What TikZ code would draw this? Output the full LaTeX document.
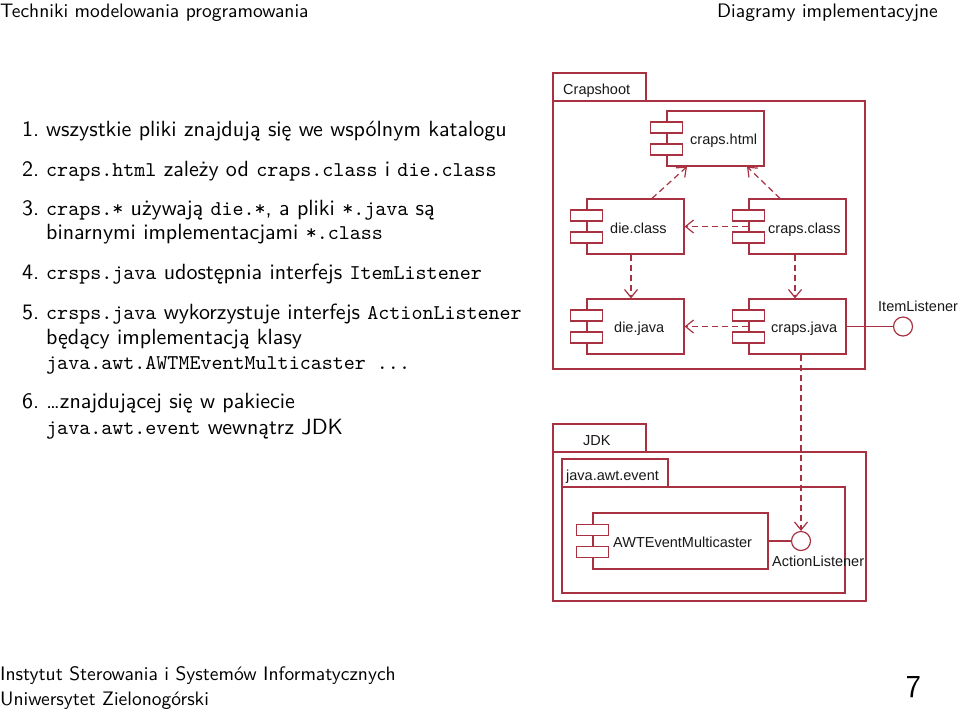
\documentclass[tikz,border=0pt]{standalone}
\usepackage{fontspec}
\newfontfamily\arialf{Liberation Sans}
\newfontfamily\lmsten{lmsans10-regular.otf}
\newfontfamily\lmmten{lmmono10-regular.otf}
\usetikzlibrary{arrows.meta}
\definecolor{umlred}{RGB}{168,50,66}
\newcommand\cod[1]{{\lmmten\fontsize{21}{24}\selectfont #1}}
\tikzset{
  umlline/.style={draw=umlred, line width=1.2pt},
  pkgbox/.style={umlline, fill=white, inner sep=0pt},
  comp/.style={umlline, fill=white, inner sep=0pt},
  bar/.style={umlline, fill=white, inner sep=0pt, minimum width=32pt, minimum height=11pt},
  iface/.style={circle, umlline, fill=white, inner sep=0pt, minimum size=19pt},
  lbl/.style={font=\arialf\fontsize{14.5}{17}\selectfont, text=black!90, anchor=base west, inner sep=0pt},
  dep/.style={umlline, dash pattern=on 6pt off 4pt, -{Straight Barb[length=8pt,width=13pt,line width=1.2pt]}},
  link/.style={umlline},
  txt/.style={font=\lmsten\fontsize{22}{25}\selectfont, anchor=base west, inner sep=0pt},
  hdr/.style={font=\lmsten\fontsize{19.5}{22}\selectfont, anchor=base west, inner sep=0pt},
}
\newcommand\compo[5]{%
  \node[comp, minimum width=#4pt, minimum height=#5pt] (#1) at (#2,#3) {};
  \node[bar] (#1-b1) at ([yshift=11pt]#1.west) {};
  \node[bar] (#1-b2) at ([yshift=-11pt]#1.west) {};
}
\begin{document}
\begin{tikzpicture}[x=1pt,y=-1pt]
\useasboundingbox (0,0) rectangle (960,710);
% header
\node[hdr] (h1) at (0,17) {Techniki modelowania programowania};
\node[hdr, anchor=base east] (h2) at (938,17) {Diagramy implementacyjne};
% footer
\node[hdr] (f1) at (0,680) {Instytut Sterowania i Systemów Informatycznych};
\node[hdr] (f2) at (0,705) {Uniwersytet Zielonogórski};
\node[hdr, anchor=base east, font=\sffamily\fontsize{32}{36}\selectfont] (f3) at (921,697) {7};
% left list
\node[txt] (n1) at (22,136) {1.};
\node[txt] (l1) at (46,136) {wszystkie pliki znajdują się we wspólnym katalogu};
\node[txt] (n2) at (22,176) {2.};
\node[txt] (l2) at (46,176) {\cod{craps.html} zależy od \cod{craps.class} i \cod{die.class}};
\node[txt] (n3) at (22,215) {3.};
\node[txt] (l3) at (46,215) {\cod{craps.*} używają \cod{die.*}, a pliki \cod{*.java} są};
\node[txt] (l3b) at (46,239) {binarnymi implementacjami \cod{*.class}};
\node[txt] (n4) at (22,279) {4.};
\node[txt] (l4) at (46,279) {\cod{crsps.java} udostępnia interfejs \cod{ItemListener}};
\node[txt] (n5) at (22,319) {5.};
\node[txt] (l5) at (46,319) {\cod{crsps.java} wykorzystuje interfejs \cod{ActionListener}};
\node[txt] (l5b) at (46,344) {będący implementacją klasy};
\node[txt] (l5c) at (46,369) {\cod{java.awt.AWTMEventMulticaster ...}};
\node[txt] (n6) at (22,408) {6.};
\node[txt] (l6) at (46,408) {\dots znajdującej się w pakiecie};
\node[txt] (l6b) at (46,434) {\cod{java.awt.event} wewnątrz JDK};
% Crapshoot package
\node[pkgbox, minimum width=93pt, minimum height=28pt] (crapTab) at (599.5,87) {};
\node[pkgbox, minimum width=312pt, minimum height=268pt] (crapBody) at (709,235) {};
\node[lbl] (crapT) at (563,94) {Crapshoot};
% components
\compo{html}{715.5}{138.5}{97}{55}
\compo{dieclass}{635.5}{226.5}{97}{55}
\compo{crapsclass}{797.5}{226.5}{97}{55}
\compo{diejava}{635.5}{326.5}{97}{55}
\compo{crapsjava}{797.5}{326.5}{97}{55}
\node[lbl] (htmlT) at (690,144) {craps.html};
\node[lbl] (dieclassT) at (610,233) {die.class};
\node[lbl] (crapsclassT) at (768,233) {craps.class};
\node[lbl] (diejavaT) at (614,332) {die.java};
\node[lbl] (crapsjavaT) at (771,332) {craps.java};
% ItemListener
\node[iface] (il) at (903,326.5) {};
\node[lbl] (ilT) at (878,311) {ItemListener};
\draw[link] (crapsjava.east) -- (il.west);
% JDK package
\node[pkgbox, minimum width=93pt, minimum height=28pt] (jdkTab) at (599.5,438) {};
\node[pkgbox, minimum width=313pt, minimum height=149pt] (jdkBody) at (709.5,526.5) {};
\node[lbl] (jdkT) at (583,445) {JDK};
\node[pkgbox, minimum width=106pt, minimum height=28pt] (evTab) at (615,473) {};
\node[pkgbox, minimum width=283pt, minimum height=106pt] (evBody) at (703.5,540) {};
\node[lbl] (evT) at (566,480) {java.awt.event};
\compo{awt}{680.5}{541}{175}{56}
\node[lbl] (awtT) at (613,547) {AWTEventMulticaster};
\node[iface] (al) at (801,541) {};
\node[lbl] (alT) at (772,566) {ActionListener};
\draw[link] (awt.east) -- (al.west);
% dependencies
\draw[dep] ([xshift=16.5pt]dieclass.north) -- ([xshift=-28.5pt]html.south);
\draw[dep] ([xshift=-17.5pt]crapsclass.north) -- ([xshift=31.5pt]html.south);
\draw[dep] (crapsclass.west) -- (dieclass.east);
\draw[dep] ([xshift=-4.5pt]dieclass.south) -- ([xshift=-4.5pt]diejava.north);
\draw[dep] ([xshift=-2.5pt]crapsclass.south) -- ([xshift=-2.5pt]crapsjava.north);
\draw[dep] (crapsjava.west) -- (diejava.east);
\draw[dep] ([xshift=3.5pt]crapsjava.south) -- (al.north);
\end{tikzpicture}
\end{document}
